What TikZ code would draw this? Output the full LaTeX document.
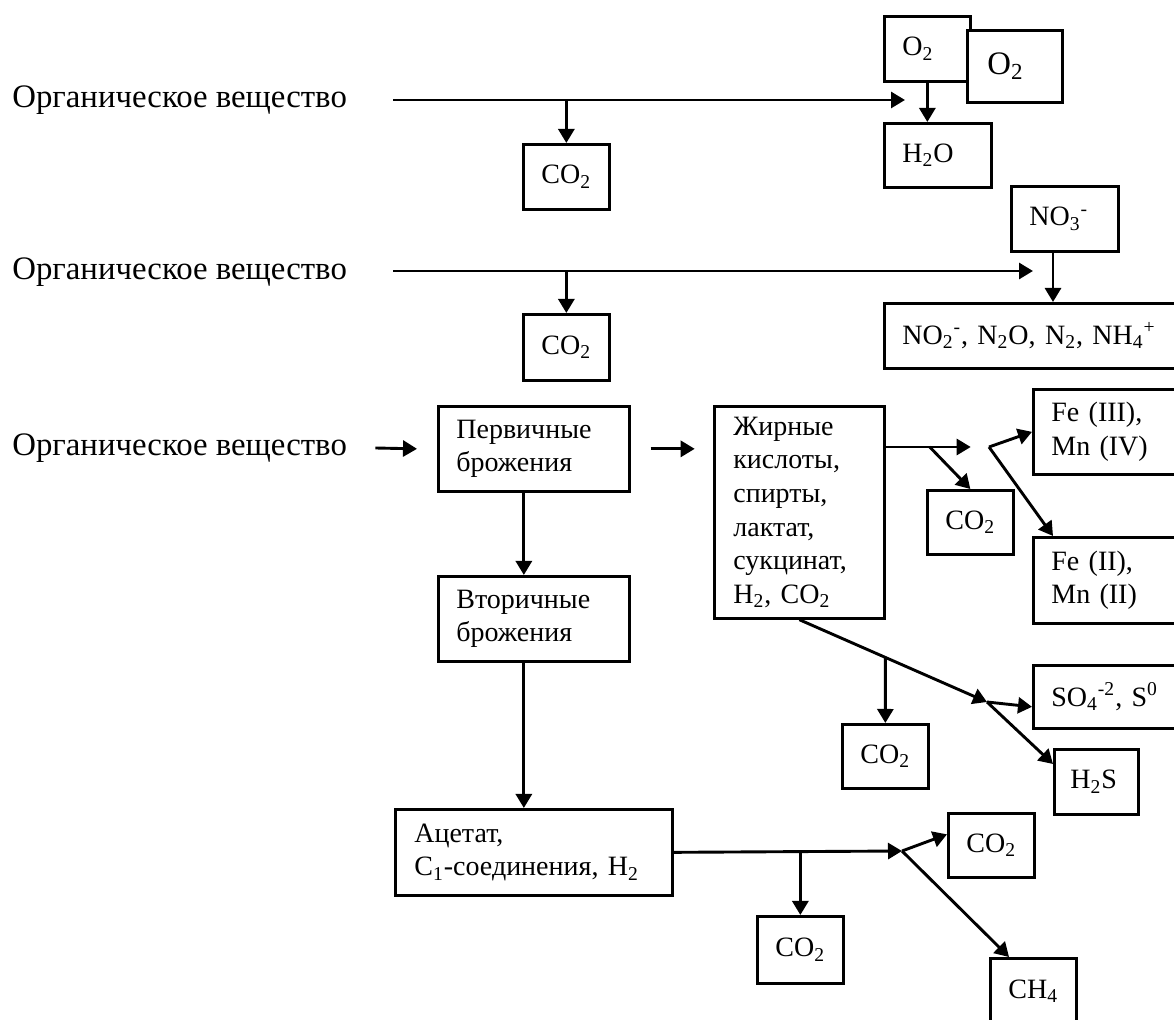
\documentclass[tikz,border=0pt]{standalone}
\usepackage{fontspec}
\setmainfont{Liberation Serif}
\usetikzlibrary{arrows.meta,calc}
\newcommand{\chsub}[1]{\textsubscript{#1}}
\newcommand{\chsup}[1]{\textsuperscript{#1}}
\tikzset{
 box/.style={draw, line width=1.35pt, fill=white, anchor=north west, inner xsep=9pt, inner ysep=0pt, align=left, font=\fontsize{14}{16.8}\selectfont},
 lbl/.style={anchor=west, inner sep=0pt, font=\fontsize{16.4}{19}\selectfont},
 arr/.style={line width=1.45pt, -{Triangle[length=7pt,width=8pt]}},
}
\begin{document}
\begin{tikzpicture}[x=0.5pt,y=-0.5pt]
\useasboundingbox (0,0) rectangle (1174,1020);
\clip (0,0) rectangle (1174,1020);

% labels
\node[lbl] (lab1) at (12,100) {Органическое вещество};
\node[lbl] (lab2) at (12,272) {Органическое вещество};
\node[lbl] (lab3) at (12,448) {Органическое вещество};

% row 1
\node[box, minimum height=32.5pt, text width=25pt] (o2a) at (883,15) {O\chsub{2}};
\node[box, minimum height=36pt, inner xsep=10pt, text width=27.5pt, font=\fontsize{16.4}{19}\selectfont] (o2b) at (966,29) {O\chsub{2}};
\node[box, minimum height=32pt, text width=35.5pt] (h2o) at (883,122) {H\chsub{2}O};
\node[box, minimum height=32.5pt, text width=25pt] (co2a) at (522,143) {CO\chsub{2}};

% row 2
\node[box, minimum height=33pt, text width=25pt] (co2b) at (522,313) {CO\chsub{2}};
\node[box, minimum height=32.5pt, text width=35.5pt] (no3) at (1010,185) {NO\chsub{3}\chsup{-}};
\node[box, minimum height=32.5pt, text width=142pt] (prod) at (883,302) {NO\chsub{2}\chsup{-}, N\chsub{2}O, N\chsub{2}, NH\chsub{4}\chsup{+}};

% row 3
\node[box, minimum height=42.5pt, text width=77.5pt] (perv) at (437,405) {Первичные\\брожения};
\node[box, minimum height=106pt, inner xsep=9.5pt, text width=66pt] (zhir) at (713,405) {Жирные\\кислоты,\\спирты,\\лактат,\\сукцинат,\\H\chsub{2}, CO\chsub{2}};
\node[box, minimum height=32pt, text width=25pt] (co2c) at (926,489) {CO\chsub{2}};
\node[box, minimum height=42.5pt, text width=62pt] (fe3) at (1032,388) {Fe (III),\\Mn (IV)};
\node[box, minimum height=43pt, text width=62pt] (fe2) at (1032,536) {Fe (II),\\Mn (II)};
\node[box, minimum height=42.5pt, text width=77.5pt] (vtor) at (437,575) {Вторичные\\брожения};
\node[box, minimum height=32pt, text width=25pt] (co2d) at (841,723) {CO\chsub{2}};
\node[box, minimum height=31.5pt, text width=62pt] (so4) at (1032,664) {SO\chsub{4}\chsup{-2}, S\chsup{0}};
\node[box, minimum height=32.5pt, inner xsep=8pt, text width=26pt] (h2s) at (1053,748) {H\chsub{2}S};

% row 4
\node[box, minimum height=43pt, inner xsep=9.5pt, text width=119.5pt] (acet) at (394,808) {Ацетат,\\C\chsub{1}-соединения, H\chsub{2}};
\node[box, minimum height=32pt, text width=25pt] (co2e) at (947,812) {CO\chsub{2}};
\node[box, minimum height=33.5pt, text width=25pt] (co2f) at (756,915) {CO\chsub{2}};
\node[box, minimum height=33pt, text width=25pt] (ch4) at (989,957) {CH\chsub{4}};

% connectors row 1
\coordinate (r1s) at (393,100);
\coordinate (r1e) at (905,100);
\draw[arr] (r1s) -- (r1e);
\draw[arr] (co2a.north |- r1s) -- (co2a.north);
\draw[arr] (o2a.south) -- (o2a.south |- h2o.north);

% connectors row 2
\coordinate (r2s) at (393,271);
\coordinate (r2e) at (1033,271);
\draw[arr] (r2s) -- (r2e);
\draw[arr] (co2b.north |- r2s) -- (co2b.north);
\coordinate (n3b) at ([xshift=21.5pt]no3.south west);
\draw[arr] (n3b) -- (n3b |- prod.north);

% connectors row 3
\draw[arr] ([xshift=14pt]lab3.east) -- ([xshift=-10pt]perv.west);
\draw[arr] ([xshift=10pt]perv.east) -- ([xshift=32pt]perv.east);
\coordinate (pv) at ([xshift=-5pt]perv.south);
\draw[arr] (pv) -- (pv |- vtor.north);
\coordinate (vt) at ([xshift=-5pt]vtor.south);
\draw[arr] (vt) -- (vt |- acet.north);

\coordinate (z1) at ([yshift=-21pt]zhir.north east);
\coordinate (z2) at ([xshift=42.5pt]z1);
\draw[arr] (z1) -- (z2);
\draw[arr] ([xshift=22pt]z1) -- (co2c.north);
\coordinate (fej) at (989,447);
\draw[arr] (fej) -- (fe3.west);
\draw[arr] (fej) -- ([xshift=10.5pt]fe2.north west);

\coordinate (sj) at (987,702);
\draw[arr] (zhir.south) -- (sj);
\draw[arr] (intersection of zhir.south--sj and co2d.north--co2d.south) -- (co2d.north);
\draw[arr] (sj) -- ([yshift=-5pt]so4.west);
\draw[arr] (sj) -- ([yshift=-8pt]h2s.north west);

% connectors row 4
\coordinate (aj) at (902,851);
\draw[arr] (acet.east) -- (aj);
\draw[arr] (co2f.north |- acet.east) -- (co2f.north);
\draw[arr] (aj) -- ([yshift=5.5pt]co2e.west);
\draw[arr] (aj) -- ([xshift=10pt]ch4.north west);
\end{tikzpicture}
\end{document}
